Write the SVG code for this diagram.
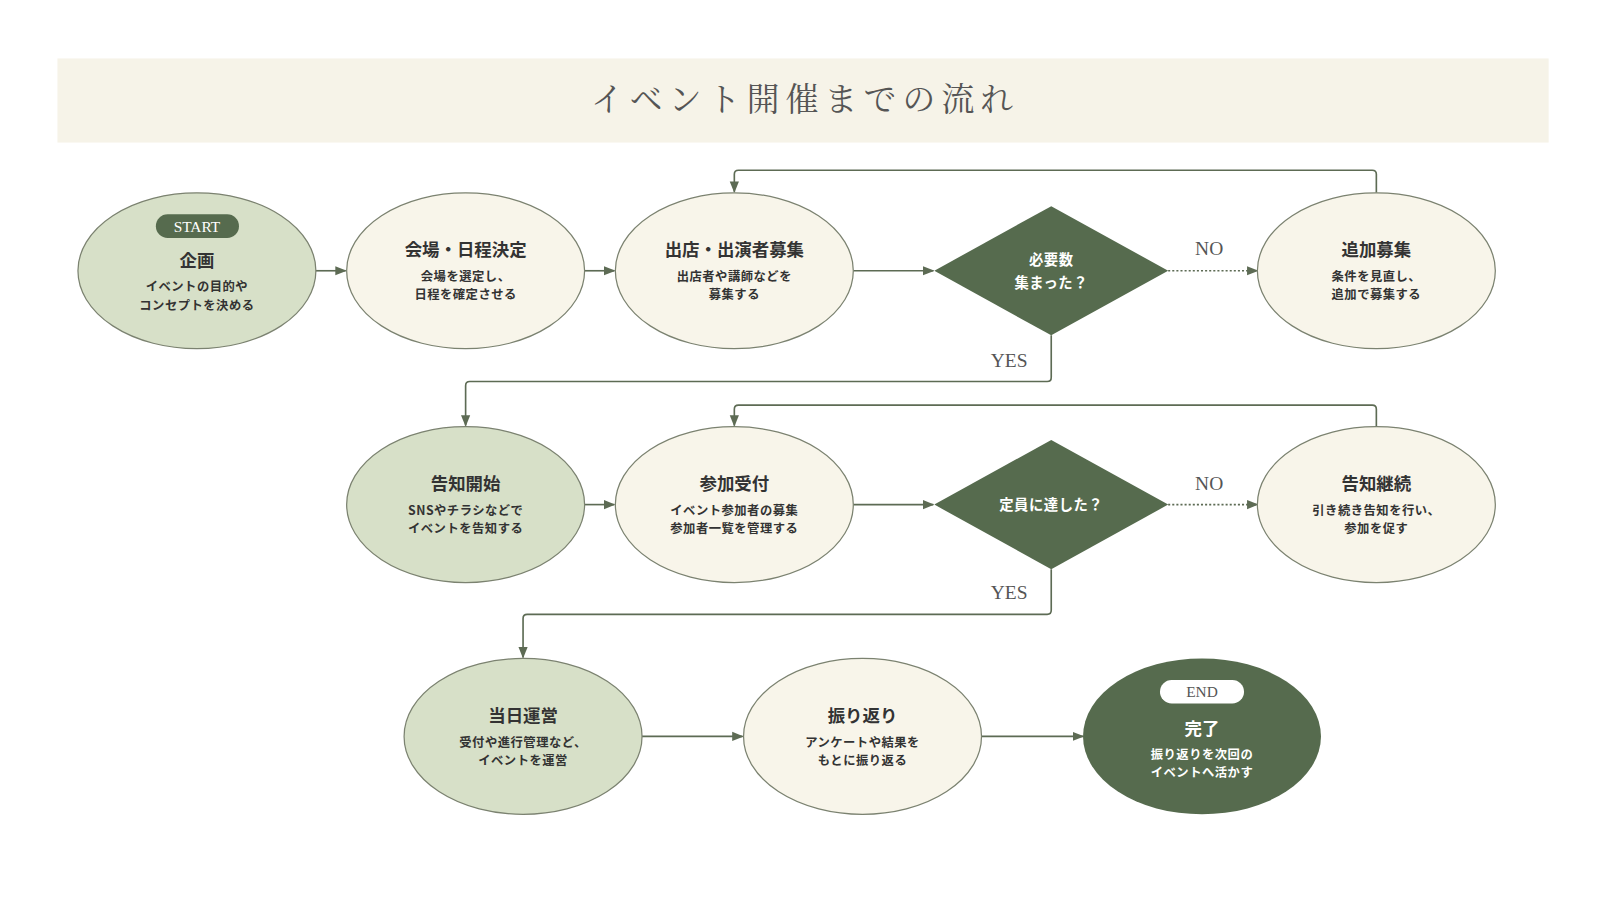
<svg xmlns="http://www.w3.org/2000/svg" width="1600" height="900" viewBox="0 0 1600 900">
<defs>
<marker id="ah" viewBox="0 0 10 10" refX="9" refY="5" markerWidth="7" markerHeight="7" orient="auto"><path d="M0,1 L10,5 L0,9 z" fill="#5d6b54"/></marker>
<style>
.lg{fill:#d7e0c8;stroke:#7b8270;stroke-width:1.2}
.cr{fill:#f8f5ea;stroke:#7b8270;stroke-width:1.2}
.dk{fill:#566b4e}
.c{fill:none;stroke:#5d6b54;stroke-width:1.6}
.dot{stroke-dasharray:2 2}
.t{font-family:"Noto Sans CJK JP",sans-serif;font-weight:700;font-size:17px;fill:#333;text-anchor:middle}
.d{font-family:"Noto Sans CJK JP",sans-serif;font-weight:700;font-size:12px;fill:#333;text-anchor:middle;letter-spacing:0.5px}
.w{fill:#fff}
.lab{font-family:"Liberation Serif",serif;font-size:19px;fill:#555;text-anchor:middle}
</style>
</defs>
<rect width="1600" height="900" fill="#fff"/>
<g transform="scale(1.0256)">
<rect x="56" y="57" width="1454" height="82" fill="#f6f3e8"/>
<text x="785" y="108" font-family="Noto Serif CJK JP, Noto Sans CJK JP, serif" font-size="32" fill="#555" text-anchor="middle" letter-spacing="6">イベント開催までの流れ</text>
<g id="connectors">
<path class="c" marker-end="url(#ah)" d="M307,264 H337"/>
<path class="c" marker-end="url(#ah)" d="M570,264 H599"/>
<path class="c" marker-end="url(#ah)" d="M832,264 H910"/>
<path class="c dot" marker-end="url(#ah)" d="M1139,264 H1226"/>
<path class="c" marker-end="url(#ah)" d="M1342,188 V170 Q1342,166 1338,166 H720 Q716,166 716,170 V187"/>
<path class="c" marker-end="url(#ah)" d="M1025,327 V368 Q1025,372 1021,372 H458 Q454,372 454,376 V415"/>
<path class="c" marker-end="url(#ah)" d="M570,492 H599"/>
<path class="c" marker-end="url(#ah)" d="M832,492 H910"/>
<path class="c dot" marker-end="url(#ah)" d="M1139,492 H1226"/>
<path class="c" marker-end="url(#ah)" d="M1342,416 V399 Q1342,395 1338,395 H720 Q716,395 716,399 V415"/>
<path class="c" marker-end="url(#ah)" d="M1025,555 V595 Q1025,599 1021,599 H514 Q510,599 510,603 V641"/>
<path class="c" marker-end="url(#ah)" d="M626,718 H724"/>
<path class="c" marker-end="url(#ah)" d="M957,718 H1056"/>
<text class="lab" x="1179" y="249">NO</text>
<text class="lab" x="984" y="358">YES</text>
<text class="lab" x="1179" y="478">NO</text>
<text class="lab" x="984" y="584">YES</text>
</g>
<g id="n1"><ellipse class="lg" cx="192" cy="264" rx="116" ry="76"/><rect class="dk" x="152" y="209" width="81" height="23" rx="11.5"/><text x="192" y="226" font-family="Liberation Serif,serif" font-size="15" fill="#fff" text-anchor="middle">START</text><text class="t" x="192" y="260">企画</text><text class="d" x="192" y="284">イベントの目的や</text><text class="d" x="192" y="302">コンセプトを決める</text></g>
<g id="n2"><ellipse class="cr" cx="454" cy="264" rx="116" ry="76"/><text class="t" x="454" y="250">会場・日程決定</text><text class="d" x="454" y="274">会場を選定し、</text><text class="d" x="454" y="292">日程を確定させる</text></g>
<g id="n3"><ellipse class="cr" cx="716" cy="264" rx="116" ry="76"/><text class="t" x="716" y="250">出店・出演者募集</text><text class="d" x="716" y="274">出店者や講師などを</text><text class="d" x="716" y="292">募集する</text></g>
<g id="d1"><polygon class="dk" points="1025,201 1139,264 1025,327 911,264"/><text class="d w" x="1025" y="258" style="font-size:14px">必要数</text><text class="d w" x="1025" y="281" style="font-size:14px">集まった？</text></g>
<g id="n4"><ellipse class="cr" cx="1342" cy="264" rx="116" ry="76"/><text class="t" x="1342" y="250">追加募集</text><text class="d" x="1342" y="274">条件を見直し、</text><text class="d" x="1342" y="292">追加で募集する</text></g>
<g id="n5"><ellipse class="lg" cx="454" cy="492" rx="116" ry="76"/><text class="t" x="454" y="478">告知開始</text><text class="d" x="454" y="502">SNSやチラシなどで</text><text class="d" x="454" y="520">イベントを告知する</text></g>
<g id="n6"><ellipse class="cr" cx="716" cy="492" rx="116" ry="76"/><text class="t" x="716" y="478">参加受付</text><text class="d" x="716" y="502">イベント参加者の募集</text><text class="d" x="716" y="520">参加者一覧を管理する</text></g>
<g id="d2"><polygon class="dk" points="1025,429 1139,492 1025,555 911,492"/><text class="d w" x="1025" y="497" style="font-size:14px">定員に達した？</text></g>
<g id="n7"><ellipse class="cr" cx="1342" cy="492" rx="116" ry="76"/><text class="t" x="1342" y="478">告知継続</text><text class="d" x="1342" y="502">引き続き告知を行い、</text><text class="d" x="1342" y="520">参加を促す</text></g>
<g id="n8"><ellipse class="lg" cx="510" cy="718" rx="116" ry="76"/><text class="t" x="510" y="704">当日運営</text><text class="d" x="510" y="728">受付や進行管理など、</text><text class="d" x="510" y="746">イベントを運営</text></g>
<g id="n9"><ellipse class="cr" cx="841" cy="718" rx="116" ry="76"/><text class="t" x="841" y="704">振り返り</text><text class="d" x="841" y="728">アンケートや結果を</text><text class="d" x="841" y="746">もとに振り返る</text></g>
<g id="n10"><ellipse class="dk" cx="1172" cy="718" rx="116" ry="76"/><rect x="1131" y="663" width="82" height="23" rx="11.5" fill="#fff"/><text x="1172" y="680" font-family="Liberation Serif,serif" font-size="15" fill="#555" text-anchor="middle">END</text><text class="t w" x="1172" y="717">完了</text><text class="d w" x="1172" y="740">振り返りを次回の</text><text class="d w" x="1172" y="758">イベントへ活かす</text></g>
</g>
</svg>
